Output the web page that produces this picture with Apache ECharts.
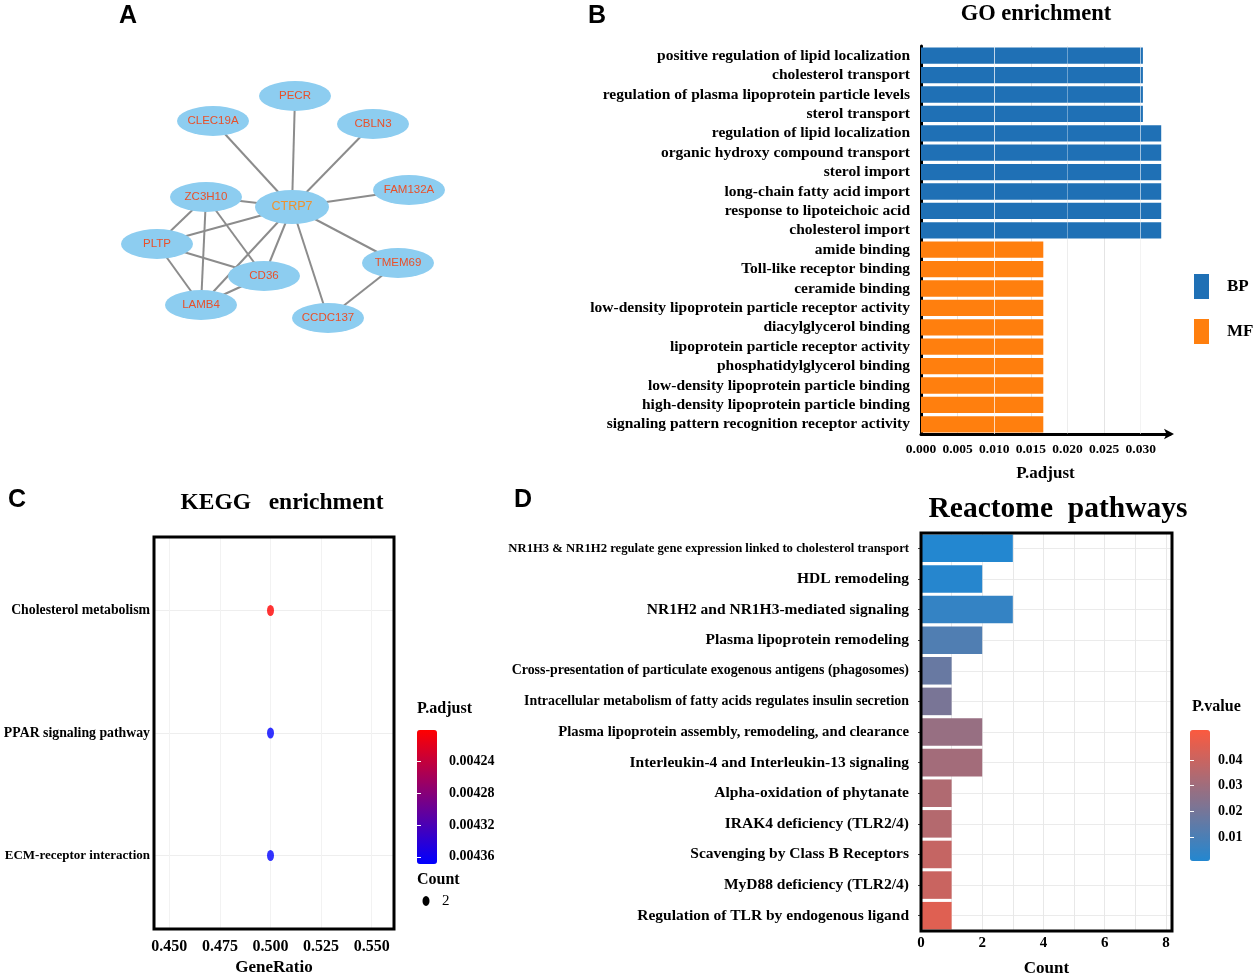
<!DOCTYPE html>
<html><head><meta charset="utf-8">
<script src="https://cdn.jsdelivr.net/npm/echarts@6/dist/echarts.min.js"></script>
<style>html,body{margin:0;padding:0;background:#fff}#c{width:1256px;height:974px}</style>
</head><body><div id="c"></div><script>
// ---------- Panel A: PPI network ----------
const ppiNodes = ['PECR','CLEC19A','CBLN3','FAM132A','ZC3H10','CTRP7','PLTP','CD36','TMEM69','LAMB4','CCDC137'];
const ppiX = [195,113,273,309,106,192,57,164,298,101,228];
const ppiY = [36,61,64,130,137,147,184,216,203,245,258];
const ppiEdges = [
  ['CTRP7','PECR'],['CTRP7','CLEC19A'],['CTRP7','CBLN3'],['CTRP7','FAM132A'],['CTRP7','ZC3H10'],
  ['CTRP7','PLTP'],['CTRP7','CD36'],['CTRP7','LAMB4'],['CTRP7','TMEM69'],['CTRP7','CCDC137'],
  ['ZC3H10','PLTP'],['ZC3H10','LAMB4'],['ZC3H10','CD36'],['PLTP','CD36'],['PLTP','LAMB4'],
  ['LAMB4','CD36'],['TMEM69','CCDC137']
];
// ---------- Panel B: GO enrichment ----------
const goTerms = [
  'positive regulation of lipid localization','cholesterol transport','regulation of plasma lipoprotein particle levels',
  'sterol transport','regulation of lipid localization','organic hydroxy compound transport','sterol import',
  'long-chain fatty acid import','response to lipoteichoic acid','cholesterol import',
  'amide binding','Toll-like receptor binding','ceramide binding','low-density lipoprotein particle receptor activity',
  'diacylglycerol binding','lipoprotein particle receptor activity','phosphatidylglycerol binding',
  'low-density lipoprotein particle binding','high-density lipoprotein particle binding','signaling pattern recognition receptor activity'
];
const goClass = ['BP','BP','BP','BP','BP','BP','BP','BP','BP','BP','MF','MF','MF','MF','MF','MF','MF','MF','MF','MF'];
const goPadj = [0.0303,0.0303,0.0303,0.0303,0.0328,0.0328,0.0328,0.0328,0.0328,0.0328,
                0.0167,0.0167,0.0167,0.0167,0.0167,0.0167,0.0167,0.0167,0.0167,0.0167];
const goTicks = [0,0.005,0.010,0.015,0.020,0.025,0.030];
// ---------- Panel C: KEGG ----------
const keggTerms = ['Cholesterol metabolism','PPAR signaling pathway','ECM-receptor interaction'];
const keggGeneRatio = [0.5,0.5,0.5];
const keggPadj = [0.0042,0.004369,0.004369];
const keggCount = [2,2,2];
const keggTicks = [0.45,0.475,0.5,0.525,0.55];
const keggPadjTicks = [0.00424,0.00428,0.00432,0.00436];
// ---------- Panel D: Reactome ----------
const reactomeTerms = [
  'NR1H3 & NR1H2 regulate gene expression linked to cholesterol transport','HDL remodeling',
  'NR1H2 and NR1H3-mediated signaling','Plasma lipoprotein remodeling',
  'Cross-presentation of particulate exogenous antigens (phagosomes)',
  'Intracellular metabolism of fatty acids regulates insulin secretion',
  'Plasma lipoprotein assembly, remodeling, and clearance','Interleukin-4 and Interleukin-13 signaling',
  'Alpha-oxidation of phytanate','IRAK4 deficiency (TLR2/4)','Scavenging by Class B Receptors',
  'MyD88 deficiency (TLR2/4)','Regulation of TLR by endogenous ligand'
];
const reactomeCount = [3,2,3,2,1,1,2,2,1,1,1,1,1];
const reactomePvalue = [0.0008,0.0015,0.0048,0.0113,0.017,0.021,0.028,0.031,0.034,0.035,0.039,0.040,0.045];
const reactomeTicks = [0,2,4,6,8];
const reactomeGrid = [0,1,2,3,4,5,6,7,8];
const pvalueTicks = [0.01,0.02,0.03,0.04];

const SERIF = "'Liberation Serif','Times New Roman',serif";
const SANS = "'Liberation Sans',Arial,sans-serif";
const bold = (size) => ({fontFamily: SERIF, fontWeight: 'bold', fontSize: size, color: '#000'});

const chart = echarts.init(document.getElementById('c'), null, {renderer: 'canvas'});
const G = (o) => Object.assign({outerBoundsMode: 'none', containLabel: false}, o);
const option = {
  animation: false,
  backgroundColor: '#fff',
  grid: [
    G({left: 100, top: 60, width: 360, height: 290}),          // A
    G({left: 921, top: 46, width: 249, height: 388}),          // B
    G({left: 154, top: 537, width: 240, height: 392}),         // C
    G({left: 417, top: 730, width: 20, height: 134}),          // C colorbar
    G({left: 921, top: 533, width: 251, height: 398}),         // D
    G({left: 1190, top: 730, width: 20, height: 131})          // D colorbar
  ],
  xAxis: [
    {gridIndex: 0, type: 'value', min: 0, max: 360, show: false},
    {gridIndex: 1, type: 'value', min: 0, max: 0.034,
      axisLine: {show: true, lineStyle: {color: '#000', width: 3}, symbol: ['none', 'arrow'], symbolSize: [8, 10], symbolOffset: [0, 4]},
      axisTick: {show: false, customValues: goTicks},
      axisLabel: Object.assign(bold(13.5), {customValues: goTicks, formatter: v => v.toFixed(3), margin: 9}),
      splitLine: {show: true, lineStyle: {color: '#e4e4e4', width: 1}},
      name: 'P.adjust', nameLocation: 'middle', nameGap: 31, nameTextStyle: bold(17)},
    {gridIndex: 2, type: 'value', min: 0.44244, max: 0.56102,
      axisLine: {show: false}, axisTick: {show: false, customValues: keggTicks},
      axisLabel: Object.assign(bold(16), {customValues: keggTicks, formatter: v => v.toFixed(3), margin: 10}),
      splitLine: {show: true, lineStyle: {color: '#f2f2f2', width: 1}},
      name: 'GeneRatio', nameLocation: 'middle', nameGap: 30, nameTextStyle: bold(17)},
    {gridIndex: 3, type: 'value', show: false},
    {gridIndex: 4, type: 'value', min: 0, max: 8.2,
      axisLine: {show: false}, axisTick: {show: false, customValues: reactomeGrid},
      axisLabel: Object.assign(bold(15), {customValues: reactomeTicks, margin: 5}),
      splitLine: {show: true, lineStyle: {color: '#e8e8e8', width: 1}},
      name: 'Count', nameLocation: 'middle', nameGap: 29, nameTextStyle: bold(17)},
    {gridIndex: 5, type: 'value', show: false}
  ],
  yAxis: [
    {gridIndex: 0, type: 'value', min: 0, max: 290, inverse: true, show: false},
    {gridIndex: 1, type: 'category', data: goTerms, inverse: true,
      axisLine: {show: true, lineStyle: {color: '#000', width: 3}},
      axisTick: {show: false},
      axisLabel: Object.assign(bold(15.5), {margin: 11, interval: 0}),
      splitLine: {show: false}},
    {gridIndex: 2, type: 'value', min: 0.4, max: 3.6, inverse: true,
      axisLine: {show: false}, axisTick: {show: false, customValues: [1,2,3]},
      axisLabel: Object.assign(bold(13.8), {customValues: [1,2,3], margin: 4,
        formatter: v => { const t = keggTerms[Math.round(v) - 1]; return t.length > 22 ? '{s|' + t + '}' : t; },
        rich: {s: bold(13)}}),
      splitLine: {show: true, lineStyle: {color: '#eeeeee', width: 1}}},
    {gridIndex: 3, type: 'value', min: 0.0042, max: 0.004369, inverse: true, position: 'right', z: 10,
      axisLine: {show: false},
      axisTick: {show: true, inside: true, length: 4, lineStyle: {color: '#fff', width: 1}, customValues: keggPadjTicks},
      axisLabel: Object.assign(bold(14), {customValues: keggPadjTicks, formatter: v => v.toFixed(5), margin: 12}),
      splitLine: {show: false}},
    {gridIndex: 4, type: 'category', data: reactomeTerms, inverse: true,
      axisLine: {show: false},
      axisTick: {show: true, length: 3, lineStyle: {color: '#444'}, alignWithLabel: true},
      axisLabel: Object.assign(bold(15.5), {margin: 12, interval: 0,
        formatter: v => v.length >= 68 ? '{s|' + v + '}' : (v.length >= 60 ? '{m|' + v + '}' : (v.length >= 50 ? '{l|' + v + '}' : v)),
        rich: {s: bold(12.7), m: bold(13.9), l: bold(14.7)}}),
      splitLine: {show: true, alignWithLabel: true, lineStyle: {color: '#ebebeb', width: 1}}},
    {gridIndex: 5, type: 'value', min: 0.0007, max: 0.0517, position: 'right', z: 10,
      axisLine: {show: false},
      axisTick: {show: true, inside: true, length: 4, lineStyle: {color: '#fff', width: 1}, customValues: pvalueTicks},
      axisLabel: Object.assign(bold(14), {customValues: pvalueTicks, formatter: v => v.toFixed(2), margin: 8}),
      splitLine: {show: false}},
    {gridIndex: 3, type: 'value', min: 0.0042, max: 0.004369, inverse: true, position: 'left', z: 10,
      axisLine: {show: false}, axisLabel: {show: false}, splitLine: {show: false},
      axisTick: {show: true, inside: true, length: 4, lineStyle: {color: '#fff', width: 1}, customValues: keggPadjTicks}},
    {gridIndex: 5, type: 'value', min: 0.0007, max: 0.0517, position: 'left', z: 10,
      axisLine: {show: false}, axisLabel: {show: false}, splitLine: {show: false},
      axisTick: {show: true, inside: true, length: 4, lineStyle: {color: '#fff', width: 1}, customValues: pvalueTicks}}
  ],
  legend: {
    data: ['BP', 'MF'], orient: 'vertical', left: 1194, top: 274, padding: 0,
    itemWidth: 15, itemHeight: 25, itemGap: 20, icon: 'rect',
    textStyle: Object.assign(bold(17), {padding: [0, 0, 0, 13]})
  },
  visualMap: [
    {type: 'continuous', seriesIndex: 3, dimension: 2, min: 0.0042, max: 0.004369, inverse: true,
      inRange: {color: ['#ff0000', '#0000ff']}, left: 417, top: 730, itemWidth: 20, itemHeight: 134,
      calculable: false, text: null, padding: 0, showLabel: false, hoverLink: false, orient: 'vertical'},
    {type: 'continuous', seriesIndex: 4, dimension: 2, min: 0.0007, max: 0.0517,
      inRange: {color: ['#2387d0', '#fb5a3f']}, left: 1190, top: 730, itemWidth: 20, itemHeight: 131,
      calculable: false, text: null, padding: 0, showLabel: false, hoverLink: false, orient: 'vertical'}
  ],
  series: [
    {type: 'graph', coordinateSystem: 'cartesian2d', xAxisIndex: 0, yAxisIndex: 0, symbol: 'circle',
      data: ppiNodes.map((n, i) => ({name: n, value: [ppiX[i], ppiY[i]],
        symbolSize: n === 'CTRP7' ? [74, 34] : [72, 30],
        label: {color: n === 'CTRP7' ? '#f0922e' : '#e8502a', fontSize: n === 'CTRP7' ? 12.5 : 11.5}})),
      links: ppiEdges.map(e => ({source: e[0], target: e[1]})),
      itemStyle: {color: '#8dcdf0'},
      lineStyle: {color: '#8c8c8c', width: 2, opacity: 1, curveness: 0},
      label: {show: true, position: 'inside', fontFamily: SANS, fontSize: 11.5, formatter: '{b}'},
      emphasis: {disabled: true}},
    {name: 'BP', type: 'bar', xAxisIndex: 1, yAxisIndex: 1, stack: 'go', barCategoryGap: '16%',
      itemStyle: {color: '#1f70b5'},
      data: goTerms.map((t, i) => goClass[i] === 'BP' ? goPadj[i] : '-')},
    {name: 'MF', type: 'bar', xAxisIndex: 1, yAxisIndex: 1, stack: 'go', barCategoryGap: '16%',
      itemStyle: {color: '#ff7f0e'},
      data: goTerms.map((t, i) => goClass[i] === 'MF' ? goPadj[i] : '-'),
      markLine: {silent: true, symbol: 'none', label: {show: false},
        lineStyle: {color: 'rgba(255,255,255,0.35)', type: 'solid', width: 1},
        data: goTicks.slice(1).map(v => ({xAxis: v}))}},
    {type: 'scatter', xAxisIndex: 2, yAxisIndex: 2, symbol: 'circle', symbolSize: [7, 11],
      data: keggTerms.map((t, i) => [keggGeneRatio[i], i + 1, keggPadj[i], keggCount[i]])},
    {type: 'bar', xAxisIndex: 4, yAxisIndex: 4, barCategoryGap: '10%',
      encode: {x: 0, y: 1},
      data: reactomeTerms.map((t, i) => [reactomeCount[i], t, reactomePvalue[i]])}
  ],
  graphic: [
    {type: 'text', x: 128, y: 16, style: {text: 'A', font: 'bold 25px ' + SANS, fill: '#000', align: 'center', verticalAlign: 'middle'}},
    {type: 'text', x: 597, y: 16, style: {text: 'B', font: 'bold 25px ' + SANS, fill: '#000', align: 'center', verticalAlign: 'middle'}},
    {type: 'text', x: 17, y: 500, style: {text: 'C', font: 'bold 25px ' + SANS, fill: '#000', align: 'center', verticalAlign: 'middle'}},
    {type: 'text', x: 523, y: 500, style: {text: 'D', font: 'bold 25px ' + SANS, fill: '#000', align: 'center', verticalAlign: 'middle'}},
    {type: 'text', x: 1036, y: 14, style: {text: 'GO enrichment', font: 'bold 22.5px ' + SERIF, fill: '#000', align: 'center', verticalAlign: 'middle'}},
    {type: 'text', x: 282, y: 503, style: {text: 'KEGG   enrichment', font: 'bold 23.5px ' + SERIF, fill: '#000', align: 'center', verticalAlign: 'middle'}},
    {type: 'text', x: 1058, y: 509, style: {text: 'Reactome  pathways', font: 'bold 29.5px ' + SERIF, fill: '#000', align: 'center', verticalAlign: 'middle'}},
    {type: 'text', x: 417, y: 709, style: {text: 'P.adjust', font: 'bold 16px ' + SERIF, fill: '#000', verticalAlign: 'middle'}},
    {type: 'text', x: 417, y: 880, style: {text: 'Count', font: 'bold 16px ' + SERIF, fill: '#000', verticalAlign: 'middle'}},
    {type: 'ellipse', shape: {cx: 426, cy: 901, rx: 3.5, ry: 5}, style: {fill: '#000'}},
    {type: 'text', x: 442, y: 901, style: {text: String(keggCount[0]), font: '15px ' + SERIF, fill: '#000', verticalAlign: 'middle'}},
    {type: 'text', x: 1192, y: 707, style: {text: 'P.value', font: 'bold 16px ' + SERIF, fill: '#000', verticalAlign: 'middle'}},
    {type: 'rect', z: 100, shape: {x: 154, y: 537, width: 240, height: 392}, style: {fill: 'none', stroke: '#000', lineWidth: 3}},
    {type: 'rect', z: 100, shape: {x: 921, y: 533, width: 251, height: 398}, style: {fill: 'none', stroke: '#000', lineWidth: 3}}
  ]
};
chart.setOption(option);
</script></body></html>
